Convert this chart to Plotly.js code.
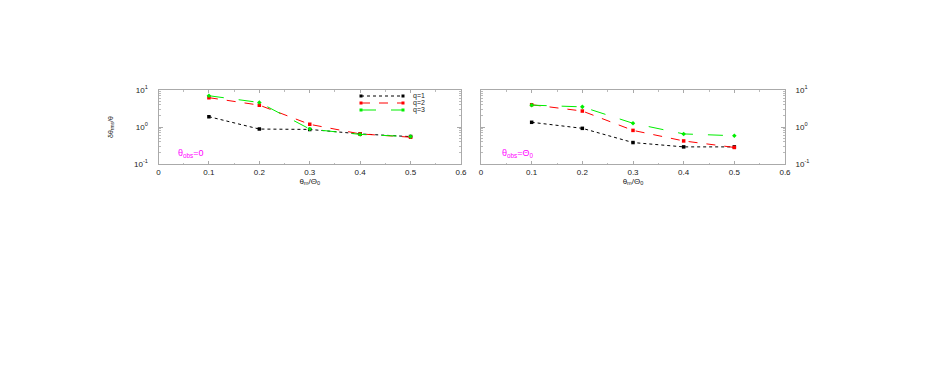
<!DOCTYPE html>
<html>
<head>
<meta charset="utf-8">
<script src="https://cdn.plot.ly/plotly-3.0.1.min.js"></script>
<style>body{margin:0;background:#fff}#chart{width:926px;height:382px}</style>
</head>
<body>
<div id="chart"></div>
<script>
// theta_m / Theta_0
const ratio = [0.1, 0.2, 0.3, 0.4, 0.5];

// left panel: theta_obs = 0
const leftQ1 = [1.9, 0.88, 0.86, 0.65, 0.55];
const leftQ2 = [6.2, 3.9, 1.18, 0.65, 0.53];
const leftQ3 = [7.0, 4.6, 0.88, 0.63, 0.55];

// right panel: theta_obs = Theta_0
const rightQ1 = [1.34, 0.92, 0.38, 0.29, 0.29];
const rightQ2 = [4.0, 2.7, 0.81, 0.42, 0.28];
const rightQ3 = [3.9, 3.5, 1.26, 0.65, 0.58];

const seriesNames = ["q=1", "q=2", "q=3"];
const yTickVals = [0.1, 1, 10];
const yTickText = ["10<sup>-1</sup>", "10<sup>0</sup>", "10<sup>1</sup>"];
const xTickVals = [0, 0.1, 0.2, 0.3, 0.4, 0.5, 0.6];

const styles = [
  {color: "#000000", dash: "dot", symbol: "square"},
  {color: "#ff0000", dash: "dash", symbol: "square"},
  {color: "#00ee00", dash: "longdash", symbol: "diamond"}
];

function mk(y, i, xa, ya) {
  return {
    x: ratio, y: y, xaxis: xa, yaxis: ya,
    type: "scatter", mode: "lines+markers",
    name: seriesNames[i], showlegend: false,
    line: {color: styles[i].color, dash: styles[i].dash, width: 1},
    marker: {color: styles[i].color, symbol: styles[i].symbol, size: 3.5}
  };
}

const traces = [
  mk(leftQ1, 0, "x", "y"),
  mk(leftQ2, 1, "x", "y"),
  mk(leftQ3, 2, "x", "y"),
  mk(rightQ1, 0, "x2", "y2"),
  mk(rightQ2, 1, "x2", "y2"),
  mk(rightQ3, 2, "x2", "y2")
];

const W = 926, H = 382;
const FONT = "Liberation Sans, Arial, sans-serif";
const yDom = [1 - 164 / H, 1 - 90 / H];
const tickFont = {family: FONT, size: 8, color: "#222"};

function xAxis(left, right, anchor) {
  return {
    domain: [left / W, right / W], anchor: anchor,
    range: [0, 0.6], tickvals: xTickVals, ticktext: xTickVals.map(v => String(v)),
    showline: true, mirror: "ticks", linecolor: "#aaa", linewidth: 1,
    ticks: "inside", ticklen: 3, tickcolor: "#aaa",
    showgrid: false, zeroline: false, tickfont: tickFont,
    minor: {ticks: "inside", ticklen: 1.5, tickcolor: "#bbb", dtick: 0.05},
    title: {text: "θ<sub>m</sub>/Θ<sub>0</sub>", font: {family: FONT, size: 8, color: "#222"}, standoff: 0}
  };
}

function yAxis(anchor, side) {
  return {
    domain: yDom, anchor: anchor, side: side,
    type: "log", range: [-1, 1],
    tickvals: yTickVals, ticktext: yTickText,
    showline: true, mirror: "ticks", linecolor: "#aaa", linewidth: 1,
    ticks: "inside", ticklen: 4, tickcolor: "#aaa", ticklabelstandoff: 8,
    showgrid: false, zeroline: false, tickfont: tickFont,
    minor: {ticks: "inside", ticklen: 2, tickcolor: "#bbb", tickvals: [0.2,0.3,0.4,0.5,0.6,0.7,0.8,0.9,2,3,4,5,6,7,8,9]}
  };
}

// hand-drawn legend (compact, like the reference) in paper coordinates
const legendShapes = [];
const legendNotes = [];
const legRows = [96, 103, 110];
styles.forEach((s, i) => {
  const yy = 1 - legRows[i] / H;
  legendShapes.push({type: "line", xref: "paper", yref: "paper", x0: 361 / W, x1: 403 / W, y0: yy, y1: yy,
    line: {color: s.color, dash: s.dash, width: 1}});
  [361, 403].forEach(px => legendShapes.push({type: "rect", xref: "paper", yref: "paper",
    x0: (px - 1.5) / W, x1: (px + 1.5) / W, y0: yy - 1.5 / H, y1: yy + 1.5 / H,
    fillcolor: s.color, line: {width: 0}}));
  legendNotes.push({xref: "paper", yref: "paper", x: 411 / W, y: yy, xanchor: "left", yanchor: "middle",
    text: seriesNames[i], showarrow: false, font: {family: FONT, size: 7, color: "#222"}});
});

const layout = {
  width: W, height: H,
  margin: {l: 0, r: 0, t: 0, b: 0},
  paper_bgcolor: "#fff", plot_bgcolor: "#fff",
  showlegend: false,
  xaxis: xAxis(158.5, 461, "y"),
  yaxis: yAxis("x", "left"),
  xaxis2: xAxis(481, 785, "y2"),
  yaxis2: yAxis("x2", "right"),
  shapes: legendShapes,
  annotations: legendNotes.concat([
    {xref: "paper", yref: "paper", x: 176 / W, y: 1 - 153 / H, xanchor: "left", yanchor: "middle",
     text: "θ<sub>obs</sub>=0", showarrow: false, font: {family: FONT, size: 9, color: "#ff00ff"}},
    {xref: "paper", yref: "paper", x: 500 / W, y: 1 - 153 / H, xanchor: "left", yanchor: "middle",
     text: "θ<sub>obs</sub>=Θ<sub>0</sub>", showarrow: false, font: {family: FONT, size: 9, color: "#ff00ff"}},
    {xref: "paper", yref: "paper", x: 111 / W, y: 1 - 127 / H, xanchor: "center", yanchor: "middle",
     text: "δθ<sub>rms</sub>/θ", textangle: -90, showarrow: false, font: {family: FONT, size: 7, color: "#222"}}
  ])
};

Plotly.newPlot("chart", traces, layout, {displayModeBar: false, staticPlot: true});
</script>
</body>
</html>
